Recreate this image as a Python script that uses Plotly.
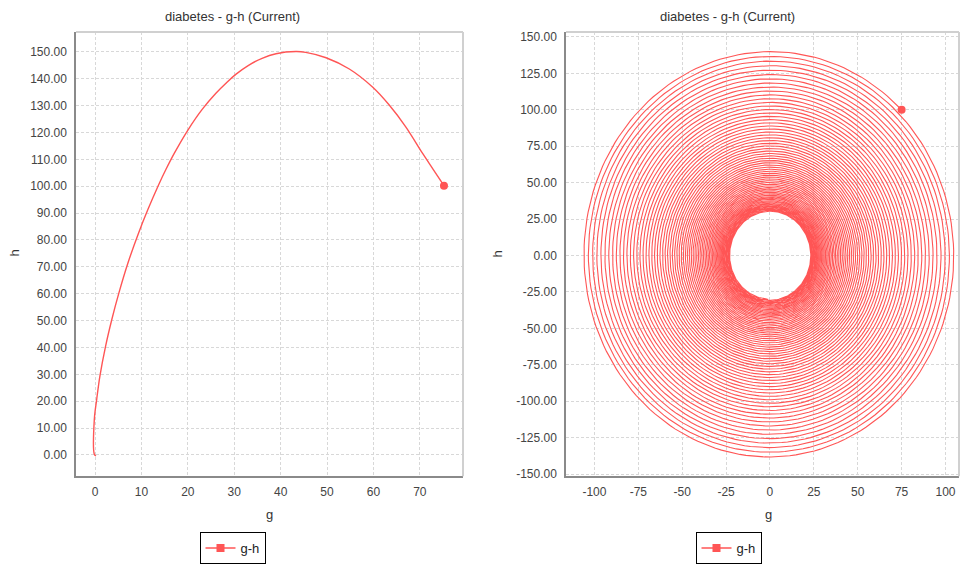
import numpy as np
import plotly.graph_objects as go

# ---------------- data ----------------
# Left panel: trajectory (g, h), from start point to the end
left_g = [75.2, 72.9, 70.6, 67.0, 63.4, 59.8, 54.8, 49.8, 45.4, 43.3, 39.0, 36.0,
          33.0, 30.4, 28.5, 26.0, 23.05, 20.05, 17.13, 15.27, 13.57, 11.39, 9.39, 7.11,
          5.15, 3.62, 2.28, 1.06, 0.36, -0.15, -0.15, 0.2]
left_h = [100.2, 106.2, 112.2, 122.0, 130.2, 136.9, 143.6, 147.8, 149.8, 150.1, 149.3, 147.6,
          144.9, 141.7, 138.8, 134.5, 128.5, 121.0, 112.4, 106.2, 100.0, 91.3, 82.6, 71.5,
          60.3, 50.4, 40.5, 29.4, 20.7, 13.3, 0.26, -0.4]

# Right panel: simulated linear g-h model (parameters)
start_g, start_h = 75.0, 100.0
coef_b = 0.7619      # effect of h on g
coef_d = 1.3125      # effect of g on h
decay = 0.0038       # damping per unit time
t_end = 406.0
n_steps = 12000

left_xticks = [0, 10, 20, 30, 40, 50, 60, 70]
left_yticks = [0, 10, 20, 30, 40, 50, 60, 70, 80, 90, 100, 110, 120, 130, 140, 150]
right_xticks = [-100, -75, -50, -25, 0, 25, 50, 75, 100]
right_yticks = [-150, -125, -100, -75, -50, -25, 0, 25, 50, 75, 100, 125, 150]

title_text = "diabetes - g-h (Current)"
series_name = "g-h"

# ---------------- simulate right trajectory (RK4) ----------------
def deriv(s):
    g, h = s
    return np.array([-coef_b * h - decay * g,
                     coef_d * g - decay * h])

dt = t_end / n_steps
state = np.array([start_g, start_h], dtype=float)
traj = [state.copy()]
for _ in range(n_steps):
    k1 = deriv(state)
    k2 = deriv(state + 0.5 * dt * k1)
    k3 = deriv(state + 0.5 * dt * k2)
    k4 = deriv(state + dt * k3)
    state = state + dt / 6.0 * (k1 + 2 * k2 + 2 * k3 + k4)
    traj.append(state.copy())
traj = np.array(traj)
right_g = traj[:, 0]
right_h = traj[:, 1]

# ---------------- figure ----------------
W, H = 961, 564
RED = "#FF5555"
FONT = "Liberation Sans, Arial, sans-serif"

def px_x(p):
    return p / W

def px_y(p):
    return 1 - p / H

def fmt_int(v):
    return str(v)

def fmt_2f(v):
    return "%.2f" % v

fig = go.Figure()

# left
fig.add_trace(go.Scatter(x=left_g, y=left_h, mode="lines",
                         line=dict(color=RED, width=1.4, shape="spline", smoothing=0.9),
                         showlegend=False, xaxis="x", yaxis="y", hoverinfo="skip"))
fig.add_trace(go.Scatter(x=[left_g[0]], y=[left_h[0]], mode="markers",
                         marker=dict(color=RED, size=8), showlegend=False, xaxis="x", yaxis="y"))
fig.add_trace(go.Scatter(x=[None], y=[None], mode="lines+markers", name=series_name,
                         line=dict(color=RED, width=1.5), marker=dict(color=RED, symbol="square", size=8),
                         xaxis="x", yaxis="y", legend="legend"))
# right
fig.add_trace(go.Scatter(x=right_g, y=right_h, mode="lines", line=dict(color=RED, width=1.1),
                         showlegend=False, xaxis="x2", yaxis="y2", hoverinfo="skip"))
fig.add_trace(go.Scatter(x=[start_g], y=[start_h], mode="markers",
                         marker=dict(color=RED, size=8), showlegend=False, xaxis="x2", yaxis="y2"))
fig.add_trace(go.Scatter(x=[None], y=[None], mode="lines+markers", name=series_name,
                         line=dict(color=RED, width=1.5), marker=dict(color=RED, symbol="square", size=8),
                         xaxis="x2", yaxis="y2", legend="legend2"))

L_x0, L_x1 = 76, 463
R_x0, R_x1 = 566, 959
Y_top, Y_bot = 32, 477

axis_common = dict(showgrid=True, gridcolor="#D8D8D8", griddash="3px,2px", gridwidth=1,
                   zeroline=False, showline=True, linecolor="#8A8A8A", linewidth=1.5,
                   ticks="", tickfont=dict(family=FONT, size=12, color="#444444"), mirror=False,
                   automargin=False)

fig.update_layout(
    width=W, height=H, margin=dict(l=0, r=0, t=0, b=0, pad=0),
    paper_bgcolor="white", plot_bgcolor="white",
    xaxis=dict(domain=[px_x(L_x0), px_x(L_x1)], range=[-4.1, 79.3], tickvals=left_xticks,
               ticktext=[fmt_int(v) for v in left_xticks], anchor="y",
               ticklabelstandoff=4, **axis_common),
    yaxis=dict(domain=[px_y(Y_bot), px_y(Y_top)], range=[-7.9, 157.4], tickvals=left_yticks,
               ticktext=[fmt_2f(v) for v in left_yticks], anchor="x",
               ticklabelstandoff=5, **axis_common),
    xaxis2=dict(domain=[px_x(R_x0), px_x(R_x1)], range=[-116.2, 107.7], tickvals=right_xticks,
                ticktext=[fmt_int(v) for v in right_xticks], anchor="y2",
                ticklabelstandoff=4, **axis_common),
    yaxis2=dict(domain=[px_y(Y_bot), px_y(Y_top)], range=[-151.4, 153.4], tickvals=right_yticks,
                ticktext=[fmt_2f(v) for v in right_yticks], anchor="x2",
                ticklabelstandoff=5, **axis_common),
    legend=dict(x=px_x(232.5), y=px_y(533), xanchor="center", yanchor="top",
                bordercolor="#000000", borderwidth=1, bgcolor="white",
                font=dict(family=FONT, size=13, color="#222222"), itemwidth=30,
                tracegroupgap=0),
    legend2=dict(x=px_x(728.5), y=px_y(533), xanchor="center", yanchor="top",
                 bordercolor="#000000", borderwidth=1, bgcolor="white",
                 font=dict(family=FONT, size=13, color="#222222"), itemwidth=30,
                 tracegroupgap=0),
    showlegend=True,
)

# top/right light plot borders
for (x0, x1) in [(L_x0, L_x1), (R_x0, R_x1)]:
    fig.add_shape(type="line", xref="paper", yref="paper", x0=px_x(x0), x1=px_x(x1),
                  y0=px_y(Y_top), y1=px_y(Y_top), line=dict(color="#D0D0D0", width=2))
    fig.add_shape(type="line", xref="paper", yref="paper", x0=px_x(x1), x1=px_x(x1),
                  y0=px_y(Y_top), y1=px_y(Y_bot), line=dict(color="#D0D0D0", width=2))

annos = [
    dict(text=title_text, x=px_x(232.5), y=px_y(17), size=13),
    dict(text=title_text, x=px_x(727.5), y=px_y(17), size=13),
    dict(text="g", x=px_x(269.5), y=px_y(515), size=13),
    dict(text="g", x=px_x(768), y=px_y(515), size=13),
]
for a in annos:
    fig.add_annotation(text=a["text"], x=a["x"], y=a["y"], xref="paper", yref="paper",
                       showarrow=False, xanchor="center", yanchor="middle",
                       font=dict(family=FONT, size=a["size"], color="#333333"))
for xp in [15, 498]:
    fig.add_annotation(text="h", x=px_x(xp), y=px_y(254), xref="paper", yref="paper",
                       showarrow=False, xanchor="center", yanchor="middle", textangle=-90,
                       font=dict(family=FONT, size=13, color="#333333"))

fig.write_html("out.html")
